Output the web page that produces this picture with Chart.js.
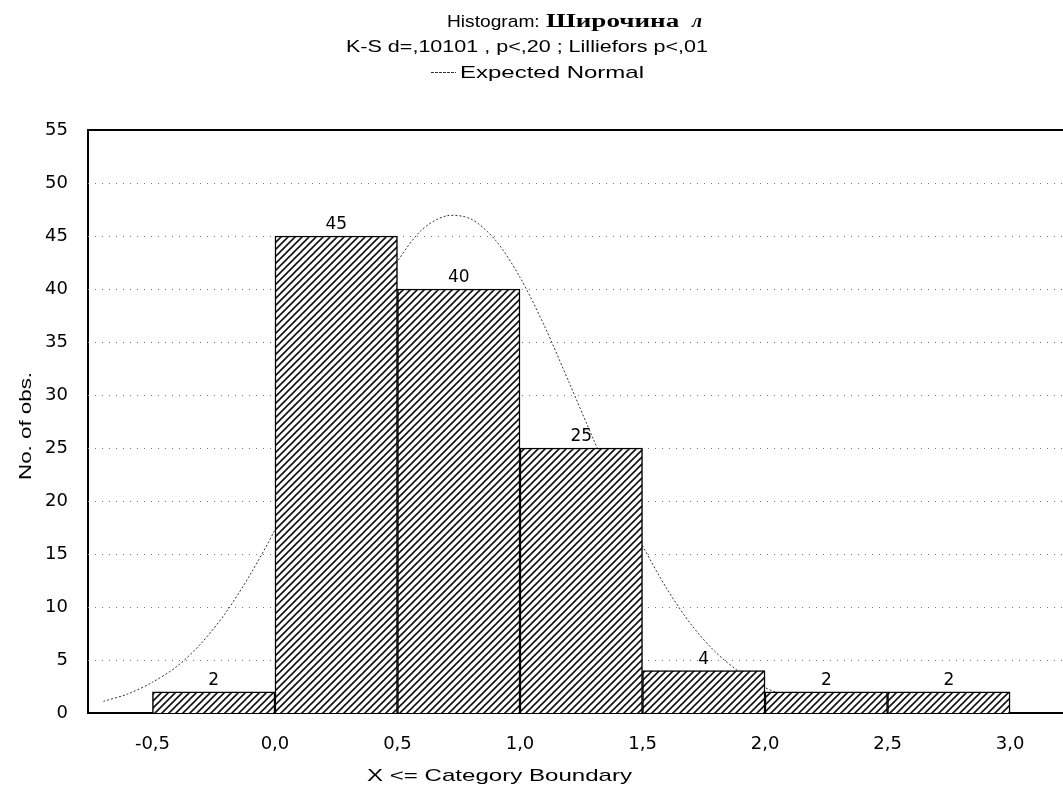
<!DOCTYPE html>
<html>
<head>
<meta charset="utf-8">
<script src="https://cdn.jsdelivr.net/npm/chart.js@4.4.1/dist/chart.umd.min.js"></script>
<style>
  html, body { margin: 0; padding: 0; background: #fff; }
  #wrap { width: 1063px; height: 787px; }
</style>
</head>
<body>
<div id="wrap"><canvas id="histChart" width="1063" height="787"></canvas></div>
<script>
// histogram bins (width 0,5), centre of each bin and its count
const binCenters = [-0.25, 0.25, 0.75, 1.25, 1.75, 2.25, 2.75];
const binCounts = [2, 45, 40, 25, 4, 2, 2];

// axis ticks
const xTicks = [-0.5, 0, 0.5, 1, 1.5, 2, 2.5, 3];
const yTicks = [0, 5, 10, 15, 20, 25, 30, 35, 40, 45, 50, 55];

// expected normal curve
const normalX = [-0.7, -0.6, -0.5, -0.4, -0.3, -0.2, -0.1, 0, 0.1, 0.2, 0.3, 0.4, 0.5, 0.6, 0.7,
                 0.8, 0.9, 1.0, 1.1, 1.2, 1.3, 1.4, 1.5, 1.6, 1.7, 1.8, 1.9, 2.0, 2.1, 2.2];
const normalY = [1.1, 1.8, 2.9, 4.4, 6.6, 9.5, 13.1, 17.3, 22.5, 28.0, 33.4, 38.4, 42.6, 45.6, 46.9,
                 46.6, 44.6, 41.1, 36.5, 31.2, 25.8, 20.5, 15.8, 11.7, 8.3, 5.7, 3.8, 2.4, 1.5, 0.9];

const titleMain = 'Histogram: ';
const titleVar = 'Широчина ';
const titleVarLetter = 'л';
const subTitle = 'K-S d=,10101 , p<,20 ; Lilliefors p<,01';
const legendLabel = 'Expected Normal';
const xTitle = 'X <= Category Boundary';
const yTitle = 'No. of obs.';

const tickFont = '"DejaVu Sans", Arial, sans-serif';
const fmtComma = v => v.toFixed(1).replace('.', ',');

// diagonal hatch used for the bars
function makeHatch() {
    const c = document.createElement('canvas');
    c.width = 7; c.height = 7;
    const g = c.getContext('2d');
    g.fillStyle = '#fff';
    g.fillRect(0, 0, 7, 7);
    g.strokeStyle = '#111';
    g.lineWidth = 1.6;
    g.beginPath();
    g.moveTo(-1, 8); g.lineTo(8, -1);
    g.moveTo(-1, 1); g.lineTo(1, -1);
    g.moveTo(6, 8); g.lineTo(8, 6);
    g.stroke();
    return c.getContext('2d').createPattern(c, 'repeat');
}

// draw text squeezed/stretched to a given width
function fitText(ctx, text, x, y, w) {
    const m = ctx.measureText(text).width;
    ctx.save();
    ctx.translate(x, y);
    ctx.scale(w / m, 1);
    ctx.fillText(text, 0, 0);
    ctx.restore();
}

const decorPlugin = {
    id: 'decor',
    beforeDatasetsDraw(chart) {
        const { ctx, chartArea } = chart;
        const y = chart.scales.y;
        ctx.save();
        ctx.strokeStyle = '#777';
        ctx.lineWidth = 1;
        ctx.setLineDash([1, 6]);
        yTicks.forEach(t => {
            if (t === 0 || t === 55) return;
            const py = Math.round(y.getPixelForValue(t)) + 0.5;
            ctx.beginPath();
            ctx.moveTo(chartArea.left, py);
            ctx.lineTo(chartArea.right, py);
            ctx.stroke();
        });
        ctx.restore();
    },
    afterDraw(chart) {
        const { ctx, chartArea } = chart;
        ctx.save();
        // top frame line
        ctx.strokeStyle = '#000';
        ctx.lineWidth = 2;
        ctx.beginPath();
        ctx.moveTo(chartArea.left, chartArea.top);
        ctx.lineTo(chartArea.right, chartArea.top);
        ctx.stroke();

        // counts above the bars
        ctx.fillStyle = '#000';
        ctx.font = '17px ' + tickFont;
        ctx.textAlign = 'center';
        ctx.textBaseline = 'alphabetic';
        const meta = chart.getDatasetMeta(0);
        meta.data.forEach((bar, i) => {
            ctx.fillText(String(binCounts[i]), bar.x, bar.y - 7);
        });

        // titles
        ctx.textAlign = 'left';
        ctx.font = '17px "Liberation Sans", Arial, sans-serif';
        fitText(ctx, titleMain, 447, 27, 98);
        ctx.font = 'bold 18px "Liberation Serif", "Times New Roman", serif';
        fitText(ctx, titleVar, 546, 27, 140);
        ctx.font = 'italic bold 18px "Liberation Serif", "Times New Roman", serif';
        fitText(ctx, titleVarLetter, 692, 27, 10);
        ctx.font = '17px "Liberation Sans", Arial, sans-serif';
        fitText(ctx, subTitle, 346, 52, 362);

        // legend
        ctx.strokeStyle = '#333';
        ctx.lineWidth = 1;
        ctx.setLineDash([3, 1]);
        ctx.beginPath();
        ctx.moveTo(431, 72.5);
        ctx.lineTo(456, 72.5);
        ctx.stroke();
        ctx.setLineDash([]);
        fitText(ctx, legendLabel, 460, 78, 184);

        // axis titles
        fitText(ctx, xTitle, 367, 781, 265);
        ctx.translate(31, 480);
        ctx.rotate(-Math.PI / 2);
        fitText(ctx, yTitle, 0, 0, 108);
        ctx.restore();
    }
};

const ctx = document.getElementById('histChart').getContext('2d');
new Chart(ctx, {
    data: {
        datasets: [{
            type: 'bar',
            label: 'Counts',
            data: binCenters.map((x, i) => ({ x: x, y: binCounts[i] })),
            backgroundColor: makeHatch(),
            borderColor: '#000',
            borderWidth: 1.5,
            barPercentage: 1,
            categoryPercentage: 1,
            order: 0
        }, {
            type: 'line',
            label: legendLabel,
            data: normalX.map((x, i) => ({ x: x, y: normalY[i] })),
            borderColor: '#333',
            borderWidth: 1,
            borderDash: [2, 2],
            pointRadius: 0,
            tension: 0.3,
            fill: false,
            order: 1
        }]
    },
    options: {
        responsive: false,
        animation: false,
        layout: { padding: { top: 130, left: 0, right: 0, bottom: 0 } },
        plugins: {
            legend: { display: false },
            title: { display: false },
            tooltip: { enabled: false }
        },
        scales: {
            x: {
                type: 'linear',
                offset: false,
                min: -0.763,
                max: 3.216,
                afterBuildTicks: s => { s.ticks = xTicks.map(v => ({ value: v })); },
                afterFit: s => { s.height = 74; },
                grid: { display: false, drawTicks: false, offset: false },
                border: { display: true, color: '#000', width: 2 },
                ticks: {
                    color: '#000',
                    padding: 21,
                    maxRotation: 0,
                    font: { family: tickFont, size: 18 },
                    callback: v => fmtComma(v)
                }
            },
            y: {
                type: 'linear',
                min: 0,
                max: 55,
                afterBuildTicks: s => { s.ticks = yTicks.map(v => ({ value: v })); },
                afterFit: s => { s.width = 88; },
                grid: { display: false, drawTicks: false },
                border: { display: true, color: '#000', width: 2 },
                ticks: {
                    color: '#000',
                    padding: 20,
                    font: { family: tickFont, size: 18 }
                }
            }
        }
    },
    plugins: [decorPlugin]
});
</script>
</body>
</html>
